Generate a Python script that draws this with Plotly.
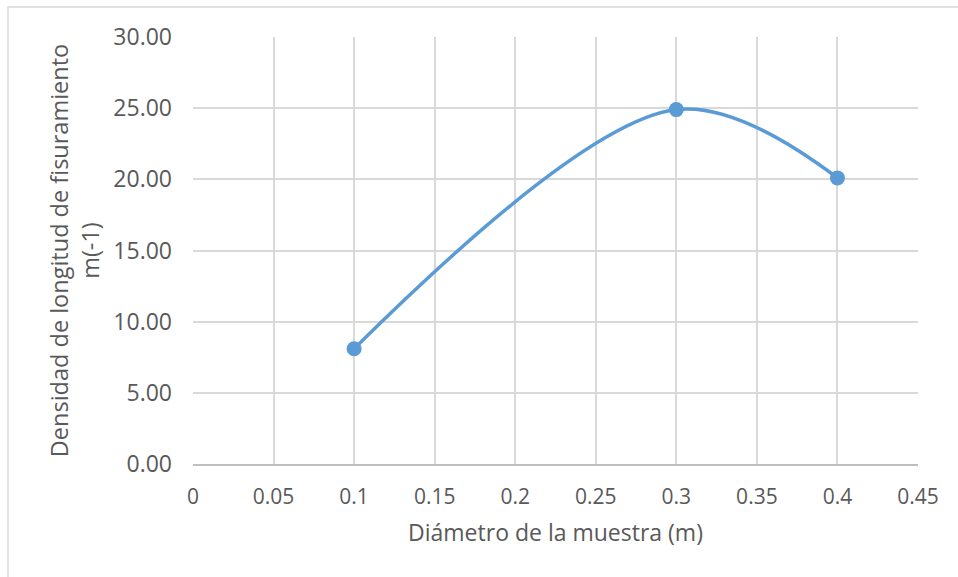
import plotly.graph_objects as go

# Sample diameter (m) and crack-length density (m^-1)
diametro = [0.1, 0.3, 0.4]
densidad = [8.1, 24.9, 20.1]

x_ticks = [0, 0.05, 0.1, 0.15, 0.2, 0.25, 0.3, 0.35, 0.4, 0.45]
x_tick_labels = ["0", "0.05", "0.1", "0.15", "0.2", "0.25", "0.3", "0.35", "0.4", "0.45"]
y_ticks = [0, 5, 10, 15, 20, 25, 30]
y_tick_labels = ["0.00", "5.00", "10.00", "15.00", "20.00", "25.00", "30.00"]

FONT = "Open Sans"
TEXT = "#595959"
GRID = "#d9d9d9"

fig = go.Figure()
fig.add_trace(go.Scatter(
    x=diametro, y=densidad,
    mode="lines+markers",
    line=dict(color="#5b9bd5", width=3.5, shape="spline", smoothing=1.0),
    marker=dict(color="#5b9bd5", size=15),
    showlegend=False,
    hoverinfo="x+y",
))

fig.update_layout(
    width=958, height=577,
    margin=dict(l=193, r=40, t=37, b=113),
    paper_bgcolor="white", plot_bgcolor="white",
    font=dict(family=FONT, color=TEXT, size=21),
    xaxis=dict(
        range=[0, 0.45], tickvals=x_ticks, ticktext=x_tick_labels,
        showgrid=True, gridcolor=GRID, gridwidth=1.5,
        showline=True, linecolor="#bfbfbf", linewidth=1.5,
        zeroline=False, ticks="", ticklabelstandoff=13,
        tickfont=dict(family=FONT, size=21, color=TEXT),
        title=dict(text="Diámetro de la muestra (m)", standoff=16,
                   font=dict(family=FONT, size=23, color=TEXT)),
    ),
    yaxis=dict(
        range=[0, 30], tickvals=y_ticks, ticktext=y_tick_labels,
        showgrid=True, gridcolor=GRID, gridwidth=1.5,
        showline=False, zeroline=False, ticks="", ticklabelstandoff=20,
        tickfont=dict(family=FONT, size=23, color=TEXT),
        title=dict(text="Densidad de longitud de fisuramiento<br>m(-1)", standoff=7,
                   font=dict(family=FONT, size=23.5, color=TEXT)),
    ),
    shapes=[dict(
        type="rect", xref="paper", yref="paper",
        x0=(8 - 193) / (958 - 193 - 40), x1=1.2,
        y0=-0.5, y1=1 + (37 - 7) / (577 - 37 - 113),
        line=dict(color="#d9d9d9", width=1.5), fillcolor="rgba(0,0,0,0)",
        layer="below",
    )],
)

fig.write_html("out.html")
